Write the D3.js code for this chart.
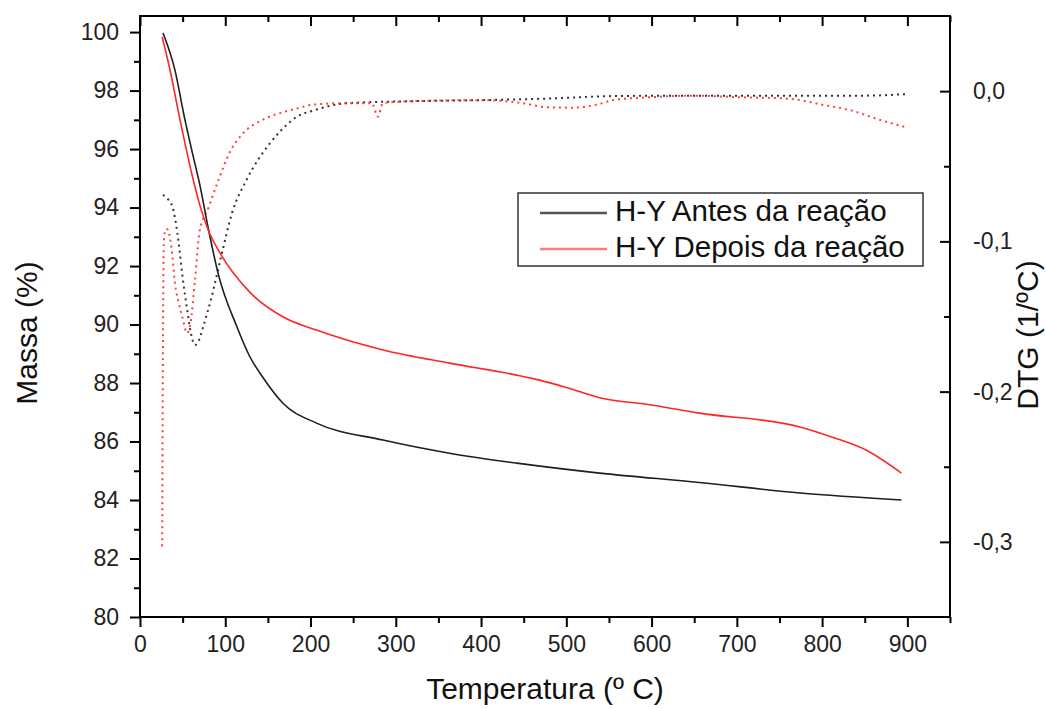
<!DOCTYPE html>
<html>
<head>
<meta charset="utf-8">
<script src="https://cdn.jsdelivr.net/npm/d3@7"></script>
<style>
  body { margin: 0; background: #fff; }
  svg { font-family: "Liberation Sans", Arial, sans-serif; }
  .tick text { fill: #222; }
</style>
</head>
<body>
<div id="chart"></div>
<script>
// TG curves (massa %)
var tempAntes = [27, 41, 52, 62, 70, 80, 91.5, 114, 129, 144, 168, 207, 285, 363, 442, 539, 656, 774, 893];
var massAntes = [99.97, 98.7, 97.1, 95.8, 94.8, 93.3, 91.76, 89.9, 88.89, 88.2, 87.3, 86.63, 86.05, 85.6, 85.26, 84.92, 84.6, 84.24, 84.0];

var tempDepois = [26, 35, 47, 62, 70, 80, 94, 129, 168, 207, 285, 363, 442, 461, 500, 539, 600, 656, 774, 812, 852, 893];
var massDepois = [99.83, 98.73, 96.99, 95.0, 94.1, 93.23, 92.44, 91.1, 90.26, 89.81, 89.13, 88.68, 88.27, 88.15, 87.85, 87.5, 87.25, 86.97, 86.5, 86.15, 85.7, 84.92];

// DTG curves (1/ºC)
var dtgTempAntes = [27, 31, 38, 44, 50, 56, 60, 64.5, 69, 74, 84, 96, 108, 125, 152, 164, 184, 203, 243, 320, 399, 477, 555, 650, 750, 850, 898];
var dtgAntes = [-0.069, -0.071, -0.077, -0.095, -0.124, -0.148, -0.162, -0.169, -0.166, -0.157, -0.137, -0.108, -0.081, -0.059, -0.035, -0.027, -0.017, -0.013, -0.008, -0.0067, -0.006, -0.005, -0.0033, -0.003, -0.003, -0.003, -0.002];

var dtgTempDepois = [26, 27, 28, 30, 32, 35, 38, 41, 45, 50, 55, 59, 64.5, 70, 80, 91.5, 105, 121, 144, 168, 188, 203, 243, 272, 279, 285, 320, 399, 449, 477, 508, 536, 555, 600, 650, 700, 760, 800, 835, 867, 898];
var dtgDepois = [-0.303, -0.16, -0.1, -0.092, -0.092, -0.097, -0.11, -0.128, -0.14, -0.151, -0.161, -0.155, -0.126, -0.093, -0.078, -0.06, -0.041, -0.028, -0.019, -0.014, -0.011, -0.009, -0.008, -0.008, -0.017, -0.008, -0.0067, -0.006, -0.008, -0.0107, -0.011, -0.009, -0.006, -0.004, -0.003, -0.004, -0.005, -0.009, -0.013, -0.019, -0.024];

var xTicks = [0, 100, 200, 300, 400, 500, 600, 700, 800, 900];
var xMinor = [50, 150, 250, 350, 450, 550, 650, 750, 850, 950];
var yTicks = [80, 82, 84, 86, 88, 90, 92, 94, 96, 98, 100];
var yMinor = [81, 83, 85, 87, 89, 91, 93, 95, 97, 99];
var y2Ticks = [0.0, -0.1, -0.2, -0.3];
var y2Minor = [-0.05, -0.15, -0.25];

var seriesNames = ["H-Y Antes da reação", "H-Y Depois da reação"];
var colors = ["#1e1e1e", "#ff2626"];

var margin = {top: 16, right: 96, bottom: 92, left: 140};
var width = 1046 - margin.left - margin.right,
    height = 709 - margin.top - margin.bottom;

var x = d3.scaleLinear().domain([0, 950]).range([0, width]);
var y = d3.scaleLinear().domain([80, 100.55]).range([height, 0]);
var y2 = d3.scaleLinear().domain([-0.35, 0.05]).range([height, 0]);

var locale = d3.formatLocale({decimal: ",", thousands: ".", grouping: [3], currency: ["", ""], minus: "-"});
var fmt1 = locale.format(".1f");

var svg = d3.select("#chart")
    .append("svg")
    .attr("width", 1046)
    .attr("height", 709)
    .append("g")
    .attr("transform", "translate(" + margin.left + "," + margin.top + ")");

function zip(a, b) { return a.map(function (d, i) { return [d, b[i]]; }); }

var line = d3.line()
    .x(function (d) { return x(d[0]); })
    .y(function (d) { return y(d[1]); })
    .curve(d3.curveMonotoneX);
var line2 = d3.line()
    .x(function (d) { return x(d[0]); })
    .y(function (d) { return y2(d[1]); })
    .curve(d3.curveMonotoneX);

// DTG dotted curves
svg.append("path").datum(zip(dtgTempAntes, dtgAntes))
    .attr("d", line2).attr("fill", "none")
    .attr("stroke", "#333").attr("stroke-width", 2)
    .attr("stroke-dasharray", "2,4");
svg.append("path").datum(zip(dtgTempDepois, dtgDepois))
    .attr("d", line2).attr("fill", "none")
    .attr("stroke", "#ff4040").attr("stroke-width", 2)
    .attr("stroke-dasharray", "2,4");

// TG solid curves
svg.append("path").datum(zip(tempAntes, massAntes))
    .attr("d", line).attr("fill", "none")
    .attr("stroke", colors[0]).attr("stroke-width", 1.6);
svg.append("path").datum(zip(tempDepois, massDepois))
    .attr("d", line).attr("fill", "none")
    .attr("stroke", colors[1]).attr("stroke-width", 1.6);

// axes
function styleAxis(g) {
    g.select(".domain").remove();
    g.selectAll(".tick line").attr("stroke", "#000").attr("stroke-width", 2);
    g.selectAll(".tick text").style("font-size", "23px");
}

svg.append("g").attr("transform", "translate(0," + height + ")")
    .call(d3.axisBottom(x).tickValues(xTicks).tickSize(10).tickPadding(9).tickFormat(d3.format("d")))
    .call(styleAxis);
svg.append("g").attr("transform", "translate(0," + height + ")")
    .call(d3.axisBottom(x).tickValues(xMinor).tickSize(6).tickFormat(""))
    .call(styleAxis);

svg.append("g")
    .call(d3.axisBottom(x).tickValues(xTicks).tickSize(10).tickFormat(""))
    .call(styleAxis);
svg.append("g")
    .call(d3.axisBottom(x).tickValues(xMinor).tickSize(6).tickFormat(""))
    .call(styleAxis);

svg.append("g")
    .call(d3.axisLeft(y).tickValues(yTicks).tickSize(10).tickPadding(11).tickFormat(d3.format("d")))
    .call(styleAxis);
svg.append("g")
    .call(d3.axisLeft(y).tickValues(yMinor).tickSize(6).tickFormat(""))
    .call(styleAxis);

svg.append("g").attr("transform", "translate(" + width + ",0)")
    .call(d3.axisRight(y2).tickValues(y2Ticks).tickSize(-10).tickPadding(23).tickFormat(fmt1))
    .call(styleAxis);
svg.append("g").attr("transform", "translate(" + width + ",0)")
    .call(d3.axisRight(y2).tickValues(y2Minor).tickSize(-6).tickFormat(""))
    .call(styleAxis);

// frame
svg.append("rect")
    .attr("width", width).attr("height", height)
    .attr("fill", "none").attr("stroke", "#000").attr("stroke-width", 2);

// axis titles
svg.append("text")
    .attr("transform", "translate(" + (29 - margin.left) + "," + (333 - margin.top) + ")rotate(-90)")
    .attr("text-anchor", "middle").attr("dominant-baseline", "middle")
    .style("font-size", "30px").style("fill", "#111")
    .text("Massa (%)");
svg.append("text")
    .attr("transform", "translate(" + (1030 - margin.left) + "," + (335 - margin.top) + ")rotate(-90)")
    .attr("text-anchor", "middle").attr("dominant-baseline", "middle")
    .style("font-size", "30px").style("fill", "#111")
    .text("DTG (1/ºC)");
svg.append("text")
    .attr("x", 545 - margin.left).attr("y", 691 - margin.top)
    .attr("text-anchor", "middle").attr("dominant-baseline", "middle")
    .style("font-size", "30px").style("fill", "#111")
    .text("Temperatura (º C)");

// legend
var legend = svg.append("g").attr("transform", "translate(" + (518 - margin.left) + "," + (193 - margin.top) + ")");
legend.append("rect")
    .attr("width", 405).attr("height", 73)
    .attr("fill", "#fff").attr("stroke", "#333").attr("stroke-width", 1.5);
seriesNames.forEach(function (name, i) {
    var cy = 20 + i * 36;
    legend.append("line")
        .attr("x1", 22).attr("x2", 89).attr("y1", cy).attr("y2", cy)
        .attr("stroke", i == 0 ? "#555" : "#ff7a7a").attr("stroke-width", 2.5);
    legend.append("text")
        .attr("x", 97).attr("y", cy)
        .attr("dominant-baseline", "middle")
        .style("font-size", "29.5px").style("fill", "#111")
        .text(name);
});
</script>
</body>
</html>
